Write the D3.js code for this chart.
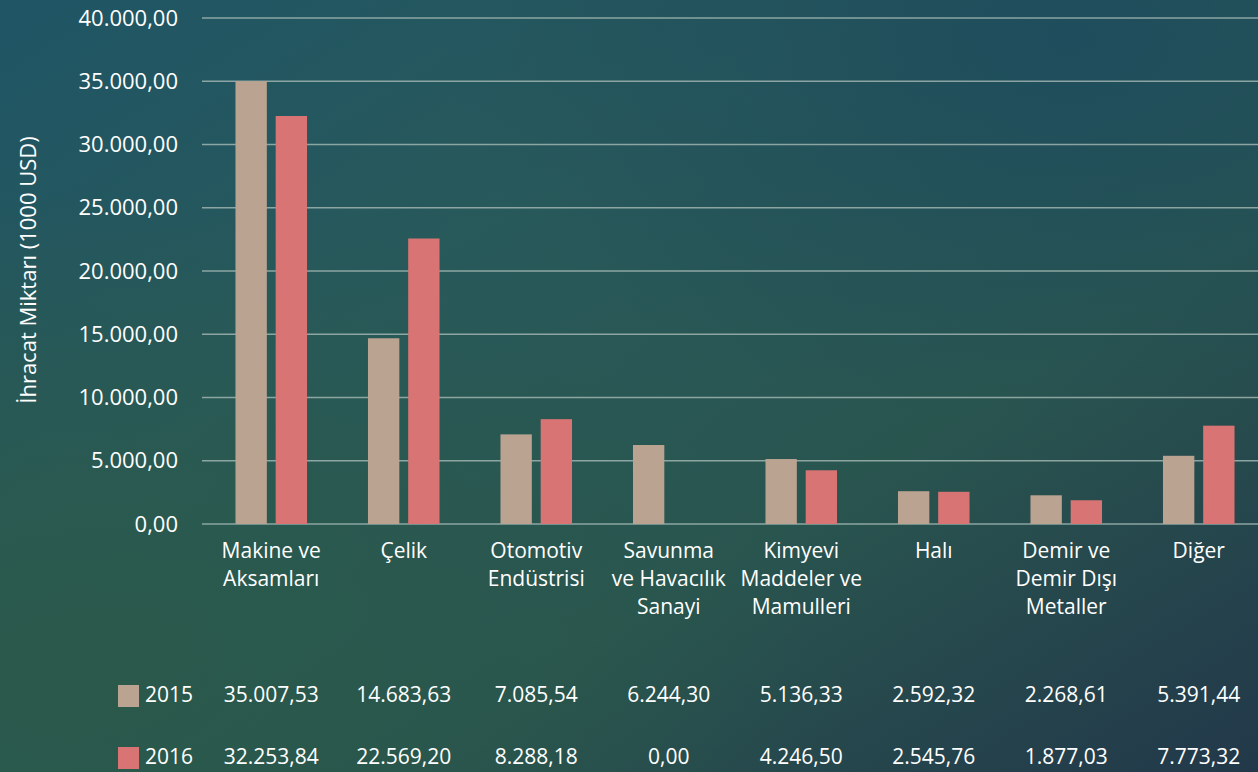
<!DOCTYPE html>
<html><head><meta charset="utf-8">
<script src="https://cdn.jsdelivr.net/npm/d3@7"></script>
<style>
html,body{margin:0;padding:0;width:1258px;height:772px;overflow:hidden;background:#27564f;}
text{font-family:"Open Sans",sans-serif;fill:#ffffff;}
</style></head><body>
<svg id="c" width="1258" height="772"></svg>
<script>
const categories = [["Makine ve","Aksamları"],["Çelik"],["Otomotiv","Endüstrisi"],["Savunma","ve Havacılık","Sanayi"],["Kimyevi","Maddeler ve","Mamulleri"],["Halı"],["Demir ve","Demir Dışı","Metaller"],["Diğer"]];
const seriesNames = ["2015","2016"];
const values2015 = [35007.53,14683.63,7085.54,6244.30,5136.33,2592.32,2268.61,5391.44];
const values2016 = [32253.84,22569.20,8288.18,0.00,4246.50,2545.76,1877.03,7773.32];
const yTicks = [0,5000,10000,15000,20000,25000,30000,35000,40000];
const seriesColors = ["#bba391","#d87474"];
const yTitle = "İhracat Miktarı (1000 USD)";

const W=1258,H=772;
const svg=d3.select("#c");
const loc=d3.formatLocale({decimal:",",thousands:".",grouping:[3],currency:["",""]});
const fmt=loc.format(",.2f");

// background
const defs=svg.append("defs");
const lg=defs.append("linearGradient").attr("id","bg").attr("x1","0").attr("y1","0").attr("x2","1").attr("y2","1");
lg.append("stop").attr("offset","0").attr("stop-color","#1f5565");
lg.append("stop").attr("offset","0.35").attr("stop-color","#28595a");
lg.append("stop").attr("offset","0.65").attr("stop-color","#29554f");
lg.append("stop").attr("offset","1").attr("stop-color","#22384a");
svg.append("rect").attr("width",W).attr("height",H).attr("fill","url(#bg)");
const rg=defs.append("radialGradient").attr("id","bg2").attr("cx","0.05").attr("cy","0.85").attr("r","0.6");
rg.append("stop").attr("offset","0").attr("stop-color","#2b5a48").attr("stop-opacity",0.8);
rg.append("stop").attr("offset","1").attr("stop-color","#2b5a48").attr("stop-opacity",0);
svg.append("rect").attr("width",W).attr("height",H).attr("fill","url(#bg2)");
const rg2=defs.append("radialGradient").attr("id","bg3").attr("cx","0.85").attr("cy","0.05").attr("r","0.5");
rg2.append("stop").attr("offset","0").attr("stop-color","#1c4a5e").attr("stop-opacity",0.8);
rg2.append("stop").attr("offset","1").attr("stop-color","#1c4a5e").attr("stop-opacity",0);
svg.append("rect").attr("width",W).attr("height",H).attr("fill","url(#bg3)");

const y=d3.scaleLinear().domain([0,40000]).range([524,18]);
const x0=d3.scaleBand().domain(d3.range(categories.length)).range([205,1265]).paddingInner(0.46).paddingOuter(0.23);
const x1=d3.scaleBand().domain(seriesNames).range([0,x0.bandwidth()]).paddingInner(0.22);

// gridlines
svg.append("g").selectAll("line").data(yTicks).join("line")
  .attr("x1",202).attr("x2",W).attr("y1",d=>y(d)).attr("y2",d=>y(d))
  .attr("stroke","#9fb4b0").attr("stroke-width",1.5).attr("opacity",0.85);

// y axis labels
const yAxis=d3.axisLeft(y).tickValues(yTicks).tickFormat(fmt).tickSize(0).tickPadding(0);
const ga=svg.append("g").attr("transform","translate(178,0)").call(yAxis);
ga.select(".domain").remove();
ga.selectAll("text").attr("fill","#fff").style("font-size","22px").style("font-family","'Open Sans',sans-serif");

// y title
svg.append("text").attr("transform","translate(36,270) rotate(-90)").attr("text-anchor","middle")
  .style("font-size","22px").text(yTitle);

// bars
const data=categories.map((c,i)=>({i,vals:[values2015[i],values2016[i]]}));
const grp=svg.append("g").selectAll("g").data(data).join("g").attr("transform",d=>`translate(${x0(d.i)},0)`);
grp.selectAll("rect").data(d=>d.vals.map((v,k)=>({k,v}))).join("rect")
  .attr("x",d=>x1(seriesNames[d.k])).attr("width",x1.bandwidth())
  .attr("y",d=>y(d.v)).attr("height",d=>y(0)-y(d.v)).attr("fill",d=>seriesColors[d.k]);

// category labels
const cl=svg.append("g").selectAll("text").data(categories).join("text")
  .attr("text-anchor","middle").style("font-size","21px")
  .attr("transform",(d,i)=>`translate(${x0(i)+x0.bandwidth()/2},558)`);
cl.selectAll("tspan").data(d=>d).join("tspan").attr("x",0).attr("y",(d,j)=>j*28).text(d=>d);

// data table
const rowsY=[702,764];
const series=[values2015,values2016];
series.forEach((vals,k)=>{
  svg.append("rect").attr("x",118).attr("y",rowsY[k]-17).attr("width",21).attr("height",22).attr("fill",seriesColors[k]);
  svg.append("text").attr("x",145).attr("y",rowsY[k]).style("font-size","21px").text(seriesNames[k]);
  svg.append("g").selectAll("text").data(vals).join("text").attr("text-anchor","middle")
    .attr("x",(d,i)=>x0(i)+x0.bandwidth()/2).attr("y",rowsY[k]).style("font-size","21px").text(d=>fmt(d));
});
</script></body></html>
